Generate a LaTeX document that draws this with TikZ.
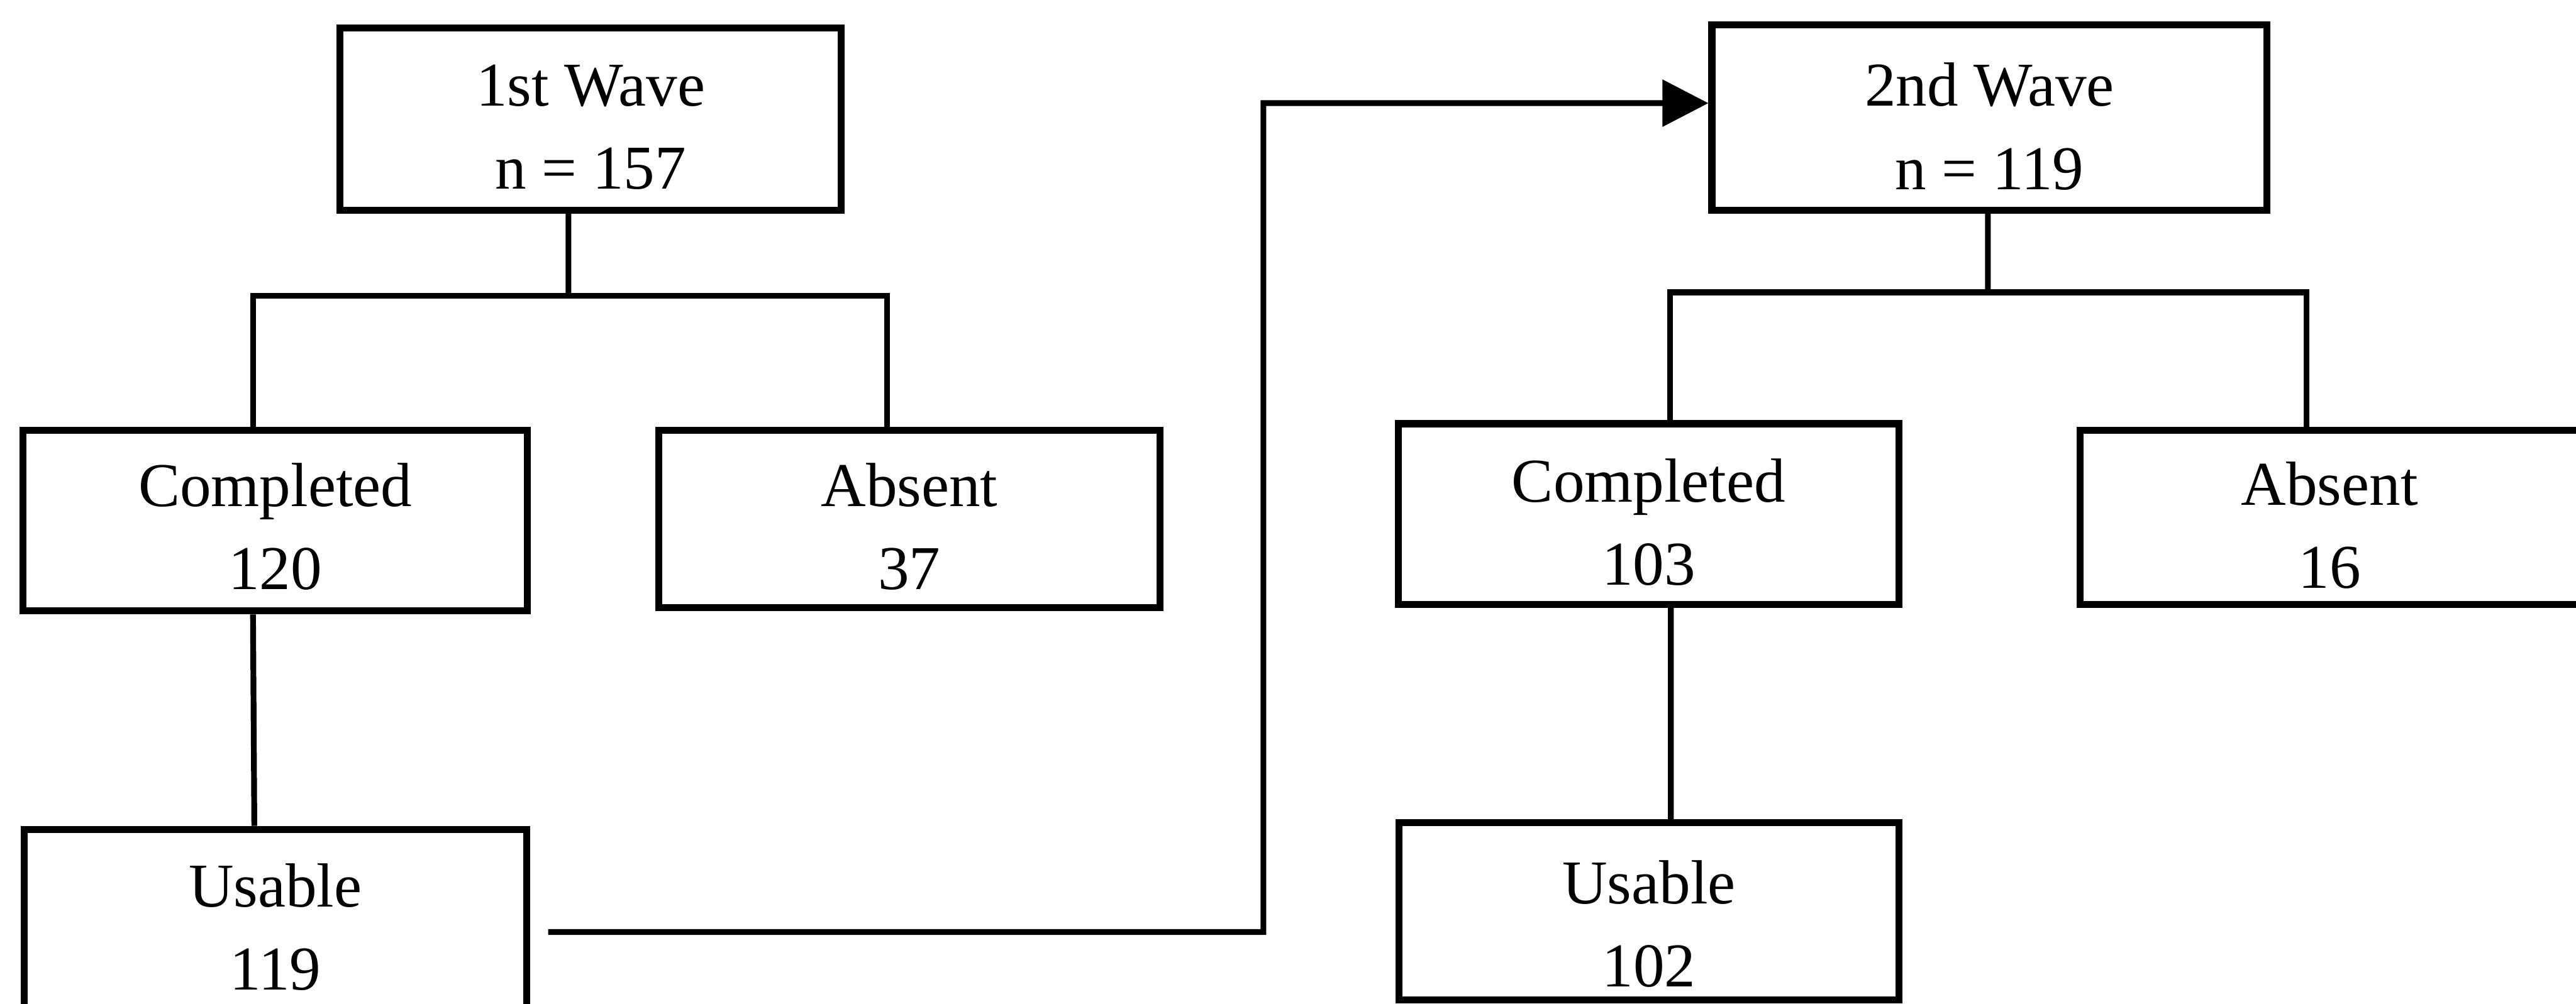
\documentclass[tikz,border=0pt]{standalone}
\usepackage{fontspec}
\setmainfont{Liberation Serif}
\usetikzlibrary{arrows.meta}
\newcommand{\twoline}[3]{\raisebox{-#3}[\height][\depth]{#1}\\\raisebox{-#3}[\height][\depth]{#2}}
\tikzset{
  box/.style={draw=black, line width=1.2pt, fill=white, align=center,
    inner sep=0pt, font=\fontsize{10.8pt}{14.4pt}\selectfont},
  conn/.style={draw=black, line width=1pt},
  tip/.style={-{Triangle[length=2.8mm,width=2.8mm]}}
}
\begin{document}
\begin{tikzpicture}
\useasboundingbox (0,0) rectangle (15.68,-6.11);
% first wave
\node[box, minimum width=3.05cm, minimum height=1.11cm] (w1) at (3.595,-0.725) {\twoline{1st Wave}{n = 157}{0.5mm}};
\node[box, minimum width=3.07cm, minimum height=1.10cm] (c1) at (1.675,-3.17) {\twoline{Completed}{120}{0.35mm}};
\node[box, minimum width=3.05cm, minimum height=1.08cm] (a1) at (5.535,-3.16) {\twoline{Absent}{37}{0.45mm}};
\node[box, minimum width=3.06cm, minimum height=1.25cm] (u1) at (1.676,-5.675) {\twoline{Usable}{119}{-0.3mm}};
% second wave
\node[box, minimum width=3.38cm, minimum height=1.13cm] (w2) at (12.11,-0.715) {\twoline{2nd Wave}{n = 119}{0.55mm}};
\node[box, minimum width=3.05cm, minimum height=1.10cm] (c2) at (10.035,-3.13) {\twoline{Completed}{103}{0.5mm}};
\node[box, minimum width=3.04cm, minimum height=1.06cm] (a2) at (14.18,-3.15) {\twoline{Absent}{16}{0.5mm}};
\node[box, minimum width=3.04cm, minimum height=1.08cm] (u2) at (10.037,-5.55) {\twoline{Usable}{102}{0.75mm}};
% tree connectors, first wave
\coordinate (j1) at (3.46,-1.80);
\draw[conn] ([xshift=-1.35mm]w1.south) -- (j1);
\draw[conn] ([xshift=-1.35mm]c1.north) |- (j1) -| ([xshift=-1.35mm]a1.north);
\draw[conn] ([xshift=-1.35mm]c1.south) -- ([xshift=-1.28mm]u1.north);
% tree connectors, second wave
\coordinate (j2) at (12.10,-1.78);
\draw[conn] ([xshift=-0.1mm]w2.south) -- (j2);
\draw[conn] ([xshift=1.3mm]c2.north) |- (j2) -| ([xshift=-1.4mm]a2.north);
\draw[conn] ([xshift=1.35mm]c2.south) -- ([xshift=1.33mm]u2.north);
% arrow from first wave usable to second wave
\coordinate (bend) at (7.69,-0.628);
\draw[conn, tip] ([xshift=1.1mm]u1.east) -| (bend) -- ([yshift=0.87mm]w2.west);
\end{tikzpicture}
\end{document}
